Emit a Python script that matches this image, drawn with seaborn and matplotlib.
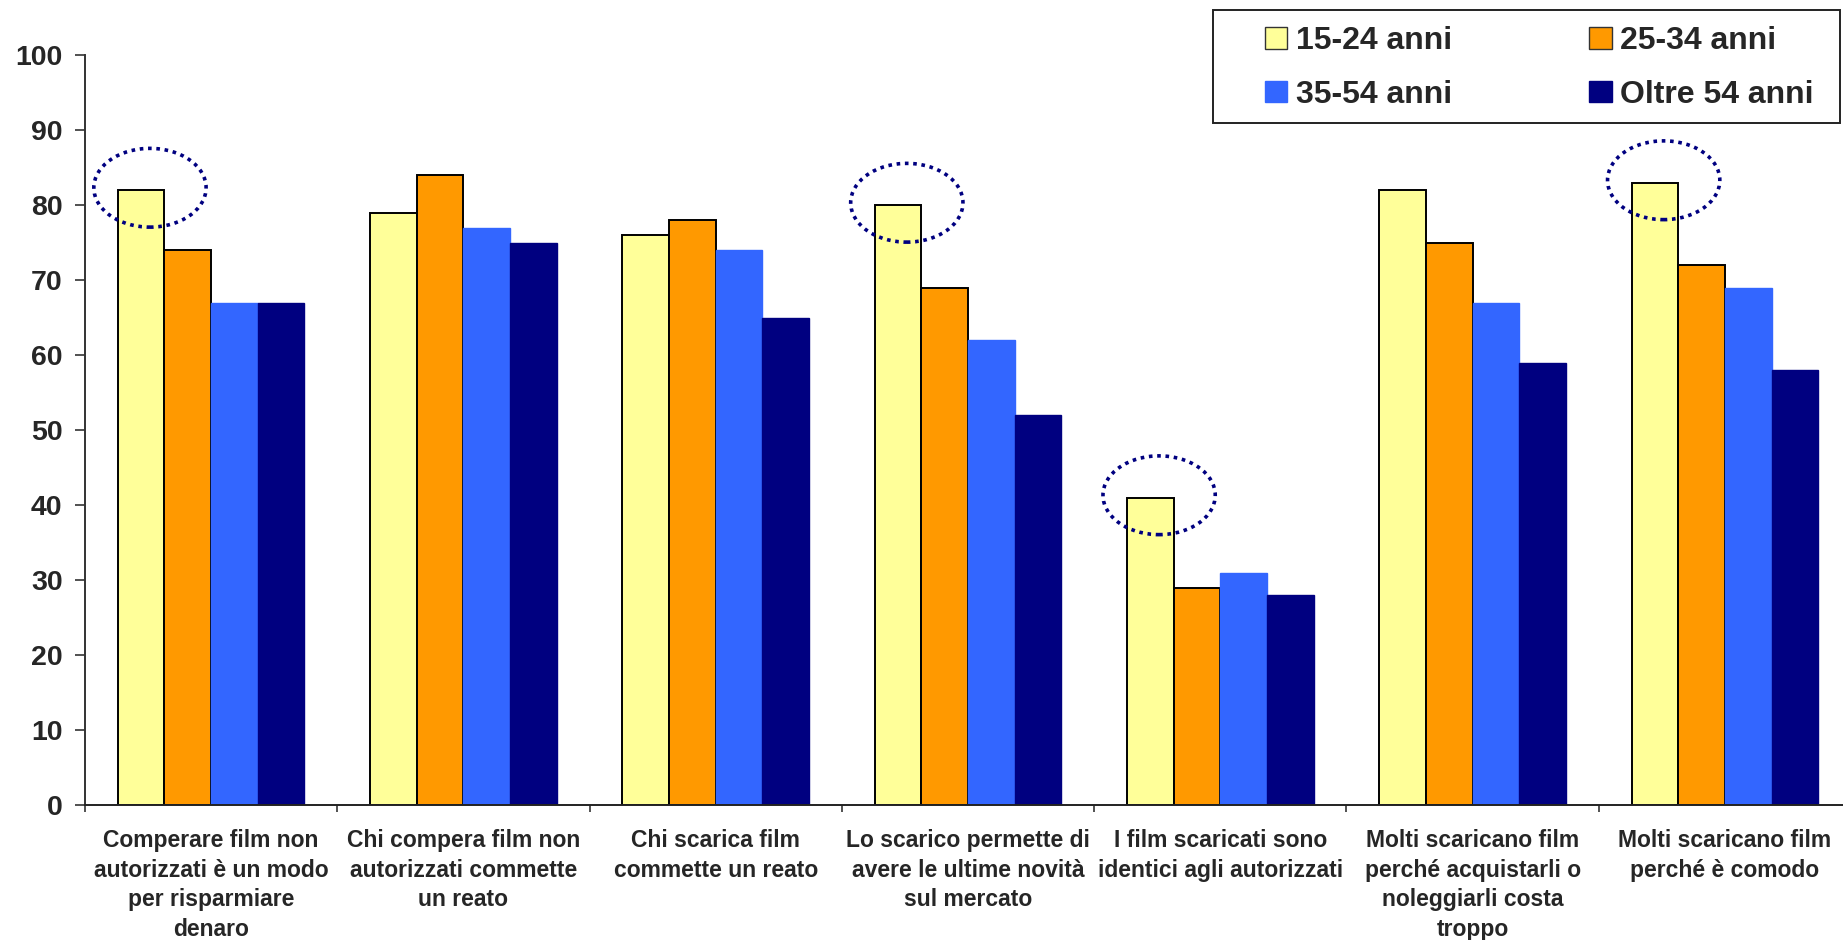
import matplotlib
matplotlib.use("Agg")
import matplotlib.pyplot as plt
from matplotlib.patches import Ellipse, Rectangle, Patch
from matplotlib.ticker import FixedLocator, MultipleLocator
import seaborn as sns
import pandas as pd

# Survey statements (x axis)
categories = [
    "Comperare film non\nautorizzati è un modo\nper risparmiare\ndenaro",
    "Chi compera film non\nautorizzati commette\nun reato",
    "Chi scarica film\ncommette un reato",
    "Lo scarico permette di\navere le ultime novità\nsul mercato",
    "I film scaricati sono\nidentici agli autorizzati",
    "Molti scaricano film\nperché acquistarli o\nnoleggiarli costa\ntroppo",
    "Molti scaricano film\nperché è comodo",
]

age_groups = ["15-24 anni", "25-34 anni", "35-54 anni", "Oltre 54 anni"]

# Percentage of agreement per age group
values_15_24 = [82, 79, 76, 80, 41, 82, 83]
values_25_34 = [74, 84, 78, 69, 29, 75, 72]
values_35_54 = [67, 77, 74, 62, 31, 67, 69]
values_over_54 = [67, 75, 65, 52, 28, 59, 58]

# Statements where the youngest group is circled
highlighted = [0, 3, 4, 6]

y_ticks = [0, 10, 20, 30, 40, 50, 60, 70, 80, 90, 100]

colors = ["#FFFF99", "#FF9900", "#3366FF", "#000080"]
edge_colors = ["#000000", "#000000", "#3366FF", "#000080"]

series = [values_15_24, values_25_34, values_35_54, values_over_54]
rows = []
for grp, vals in zip(age_groups, series):
    for cat, v in zip(categories, vals):
        rows.append({"categoria": cat, "valore": v, "eta": grp})
df = pd.DataFrame(rows)

sns.set_theme(style="white")
plt.rcParams["font.family"] = ["Liberation Sans", "DejaVu Sans"]
plt.rcParams["font.weight"] = "bold"

W, H = 1843, 940
fig = plt.figure(figsize=(W / 100, H / 100), dpi=100)
ax = fig.add_axes([85 / W, (H - 805) / H, 1766 / W, 750 / H])

sns.barplot(
    data=df, x="categoria", y="valore", hue="eta",
    order=categories, hue_order=age_groups,
    palette=colors, saturation=1, width=0.74, gap=0,
    linewidth=1.5, ax=ax, legend=False,
)

for cont, ec in zip(ax.containers, edge_colors):
    for bar in cont:
        bar.set_edgecolor(ec)
        bar.set_linewidth(1.4 if ec == "#000000" else 1.0)

ax.set_xlim(-0.5, len(categories) - 0.5)
ax.set_ylim(0, 100)
ax.set_xlabel("")
ax.set_ylabel("")

# y axis
ax.yaxis.set_major_locator(FixedLocator(y_ticks))
ax.set_yticklabels([str(t) for t in y_ticks], fontsize=20.5, fontweight="bold")
ax.tick_params(axis="y", which="major", direction="out", length=7.2, width=1.2,
               color="#333333", pad=9, left=True)

# x axis: labels centred, tick marks on group boundaries
ax.set_xticks(range(len(categories)))
ax.set_xticklabels(categories, fontsize=16.5, fontweight="bold", linespacing=1.36)
ax.xaxis.set_minor_locator(MultipleLocator(1, offset=0.5))
ax.tick_params(axis="x", which="major", length=0, pad=17.5)
ax.tick_params(axis="x", which="minor", direction="out", length=5, width=1.2,
               color="#333333", bottom=True)

for side in ("top", "right"):
    ax.spines[side].set_visible(False)
ax.spines["left"].set_color("#333333")
ax.spines["left"].set_linewidth(1.4)
ax.spines["bottom"].set_color("#222222")
ax.spines["bottom"].set_linewidth(1.4)
ax.grid(False)

# dotted ellipses around the youngest group's bars
first = ax.containers[0]
for idx in highlighted:
    bar = first[idx]
    cx = bar.get_x() + bar.get_width() / 2 + 0.035
    cy = bar.get_height() + 0.3
    ax.add_patch(Ellipse((cx, cy), width=0.445, height=10.5, fill=False,
                         edgecolor="#000080", linewidth=2.6,
                         linestyle=(0, (1, 1.3)), zorder=5, clip_on=False))

# legend with a separate box
handles = [Patch(facecolor=c, edgecolor=("#333333" if i < 2 else c), linewidth=1.0)
           for i, c in enumerate(colors)]
order = [0, 2, 1, 3]
fig.legend([handles[i] for i in order], [age_groups[i] for i in order],
           ncol=2, loc="upper left", bbox_to_anchor=(1265 / W, 1 - 26 / H),
           frameon=False, borderpad=0, borderaxespad=0,
           prop={"size": 23, "weight": "bold"},
           handlelength=0.69, handleheight=0.66, handletextpad=0.28,
           columnspacing=4.3, labelspacing=0.74)
fig.patches.append(Rectangle((1213 / W, 1 - 123 / H), (1840 - 1213) / W, 113 / H,
                             transform=fig.transFigure, fill=False,
                             edgecolor="#222222", linewidth=1.4))

fig.savefig("out.png", dpi=100)
